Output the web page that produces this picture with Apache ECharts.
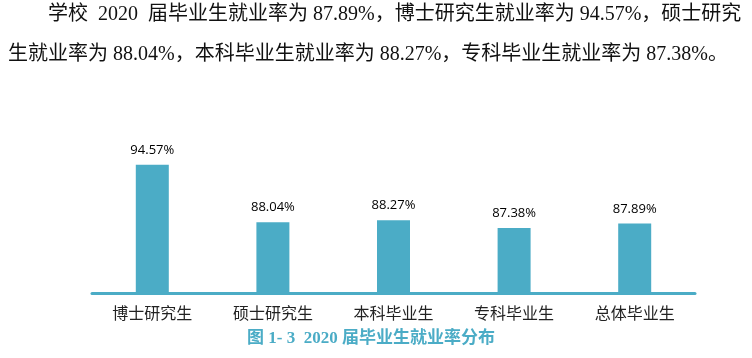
<!DOCTYPE html>
<html>
<head>
<meta charset="utf-8">
<script src="https://cdn.jsdelivr.net/npm/echarts@6/dist/echarts.min.js"></script>
<style>html,body{margin:0;padding:0;background:#fff;}#c{width:752px;height:358px;}</style>
</head>
<body>
<div id="c"></div>
<script>
const categories = ['博士研究生', '硕士研究生', '本科毕业生', '专科毕业生', '总体毕业生'];
const rates = [94.57, 88.04, 88.27, 87.38, 87.89];
const paragraphLines = [
  '学校  2020  届毕业生就业率为 87.89%，博士研究生就业率为 94.57%，硕士研究',
  '生就业率为 88.04%，本科毕业生就业率为 88.27%，专科毕业生就业率为 87.38%。'
];
const caption = '图 1- 3  2020 届毕业生就业率分布';

const chart = echarts.init(document.getElementById('c'), null, {renderer: 'canvas'});
const barColor = '#4BACC6';
chart.setOption({
  animation: false,
  backgroundColor: '#fff',
  grid: {left: 92, right: 57, top: 117, bottom: 65},
  xAxis: {
    type: 'category',
    data: categories,
    axisLine: {lineStyle: {color: barColor, width: 3}},
    axisTick: {show: false},
    axisLabel: {
      margin: 12,
      fontSize: 16,
      color: '#222',
      fontFamily: '"Noto Sans CJK SC", sans-serif'
    }
  },
  yAxis: {type: 'value', min: 80, max: 100, show: false},
  series: [{
    type: 'bar',
    data: rates,
    barWidth: 33,
    itemStyle: {color: barColor},
    label: {
      show: true,
      position: 'top',
      distance: 8,
      fontSize: 13,
      color: '#000',
      fontFamily: '"Open Sans", "Noto Sans", sans-serif',
      formatter: p => p.value.toFixed(2) + '%'
    }
  }],
  graphic: [
    {type: 'text', left: 48, top: 5, style: {text: paragraphLines[0], fontSize: 20, fill: '#111', fontFamily: '"Liberation Serif", "Noto Sans CJK SC", serif'}},
    {type: 'text', left: 8, top: 45, style: {text: paragraphLines[1], fontSize: 20, fill: '#111', fontFamily: '"Liberation Serif", "Noto Sans CJK SC", serif'}},
    {type: 'text', left: 247, top: 330, style: {text: caption, fontSize: 17, fontWeight: 'bold', fill: barColor, fontFamily: '"Liberation Serif", "Noto Sans CJK SC", serif'}}
  ]
});
</script>
</body>
</html>
